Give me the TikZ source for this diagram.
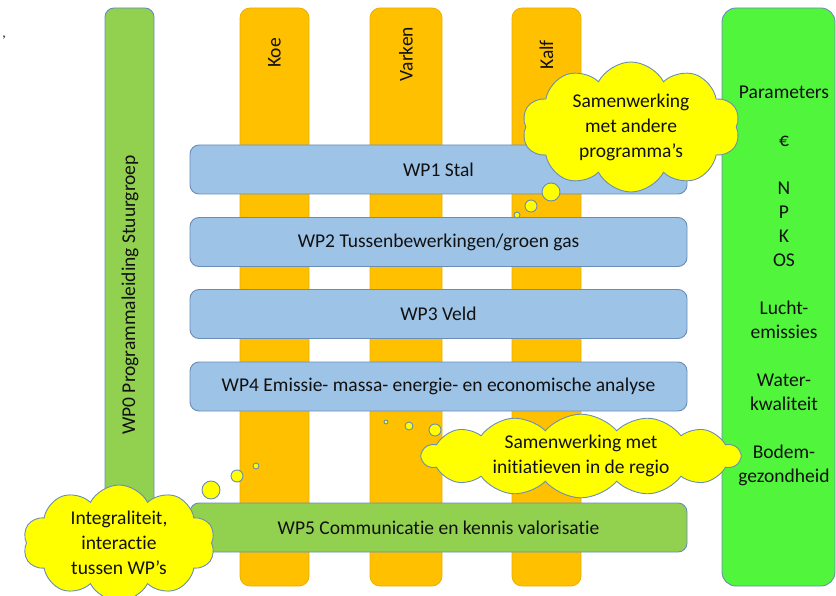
\documentclass[tikz,border=0pt]{standalone}
\usepackage{fontspec}
\setmainfont{Carlito}[Ligatures={NoCommon}]
\usetikzlibrary{shapes.symbols}
\definecolor{orangebar}{HTML}{FFC000}
\definecolor{orangeedge}{HTML}{E9B000}
\definecolor{bluebar}{HTML}{9DC3E6}
\definecolor{greenbar}{HTML}{92D050}
\definecolor{brightgreen}{HTML}{50F53C}
\definecolor{edgeblue}{HTML}{6A8DB8}
\definecolor{cloudyellow}{HTML}{FFFF00}
\definecolor{ink}{HTML}{111111}
\begin{document}
\begin{tikzpicture}[x=1pt,y=-1pt,
  every node/.style={text=ink, inner sep=0pt},
  txt/.style={font=\fontsize{19.5}{24}\selectfont, align=center},
  orangecol/.style={fill=orangebar, draw=orangeedge, line width=0.8pt, rounded corners=10pt},
  bluebox/.style={fill=bluebar, draw=edgeblue, line width=0.9pt, rounded corners=9pt,
     minimum width=497pt, minimum height=49pt, txt},
  greenbox/.style={fill=greenbar, draw=edgeblue, line width=0.9pt, rounded corners=9pt},
  rightbox/.style={fill=brightgreen, draw=edgeblue, line width=0.9pt, rounded corners=14pt},
  cloudbox/.style={cloud, cloud puffs=10, cloud puff arc=125, cloud ignores aspect,
     fill=cloudyellow, draw=edgeblue, line width=0.9pt, txt, font=\fontsize{19.5}{25}\selectfont},
  bubble/.style={circle, fill=cloudyellow, draw=edgeblue, line width=0.9pt}
]
\useasboundingbox (0,0) rectangle (836,596);

% stray mark
\node[font=\fontsize{14}{14}\selectfont] (mark) at (4,38) {,};

% WP0 column
\draw[greenbox] (105,8) rectangle (154,545);
\node[txt, rotate=90] (wp0) at (130,295) {WP0 Programmaleiding Stuurgroep};

% animal columns
\draw[orangecol] (240,8) rectangle (309,586);
\draw[orangecol] (370,8) rectangle (442,586);
\draw[orangecol] (512,8) rectangle (581,586);
\node[txt, rotate=90] (koe) at (274.5,53) {Koe};
\node[txt, rotate=90] (varken) at (406,54) {Varken};
\node[txt, rotate=90] (kalf) at (546.5,55) {Kalf};

% work packages
\node[bluebox] (wp1) at (438.5,169.5) {WP1 Stal};
\node[bluebox] (wp2) at (438.5,242) {WP2 Tussenbewerkingen/groen gas};
\node[bluebox] (wp3) at (438.5,314) {WP3 Veld};
\node[bluebox] (wp4) at (438.5,386.5) {WP4 Emissie- massa- energie- en economische analyse};
\node[bluebox, fill=greenbar] (wp5) at (438.5,527.5) {WP5 Communicatie en kennis valorisatie};

% parameter column
\draw[rightbox] (722,8) rectangle (835,586);
\node[txt] (params) at (784,286) {Parameters\\ \\€\\ \\N\\P\\K\\OS\\ \\Lucht-\\emissies\\ \\Water-\\kwaliteit\\ \\Bodem-\\gezondheid};

% clouds
\node[cloudbox, minimum width=218pt, minimum height=130pt] (c1) at (631,127) {Samenwerking\\met andere\\programma’s};
\node[bubble, minimum size=18pt] (b1a) at (551,192) {};
\node[bubble, minimum size=12pt] (b1b) at (531,206) {};
\node[bubble, minimum size=6pt] (b1c) at (517,215) {};

\node[cloudbox, cloud puffs=14, cloud puff arc=100, minimum width=318pt, minimum height=66pt] (c2) at (581,456) {Samenwerking met\\initiatieven in de regio};
\node[bubble, minimum size=12pt] (b2a) at (435,430) {};
\node[bubble, minimum size=8pt] (b2b) at (409,426) {};
\node[bubble, minimum size=4pt] (b2c) at (386,422) {};

\node[cloudbox, minimum width=192pt, minimum height=116pt] (c3) at (119,543) {Integraliteit,\\interactie\\tussen WP’s};
\node[bubble, minimum size=18pt] (b3a) at (211,490) {};
\node[bubble, minimum size=12pt] (b3b) at (237,476) {};
\node[bubble, minimum size=6pt] (b3c) at (256,466) {};
\end{tikzpicture}
\end{document}
